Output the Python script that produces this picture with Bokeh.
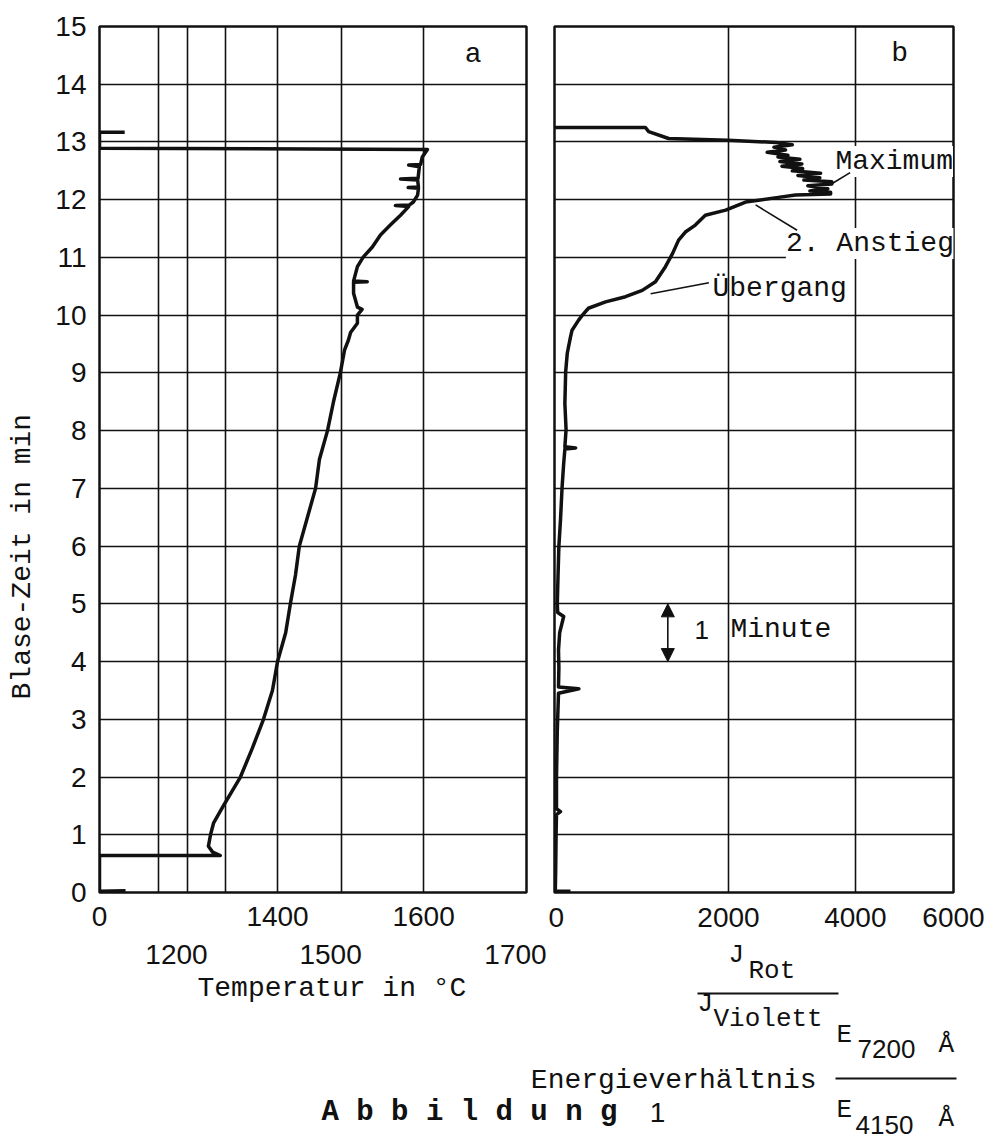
import math
from bokeh.plotting import figure
from bokeh.models import (Range1d, FixedTicker, LinearAxis, Grid, Label, Arrow,
                          NormalHead, ColumnDataSource)
from bokeh.layouts import row, column
from bokeh.embed import file_html
from bokeh.resources import INLINE

# ---------------- data ----------------
# blowing time (min), common vertical axis
MINUTES = list(range(0, 16))

# Panel a: pyrometer recorder, pen deflection in scale divisions (0..100 across the chart)
# calibration of the recorder scale in degrees Celsius
TEMP_C = [1100, 1200, 1300, 1400, 1500, 1600, 1700]
TEMP_DIV = [13.8, 20.6, 29.5, 41.7, 56.7, 75.9, 100.0]
TEMP_ROW1 = [1400, 1600]
TEMP_ROW2 = [1200, 1500, 1700]

a_time = [0.03, 0.02, 0.64, 0.64, 0.70, 0.80, 1.00, 1.20, 1.50, 2.00, 2.50, 3.00,
          3.50, 4.00, 4.50, 5.00, 5.50, 6.00, 6.50, 7.00, 7.50, 8.00, 8.50, 9.00,
          9.40, 9.57, 9.70, 9.86, 10.00, 10.10, 10.14, 10.38, 10.57, 10.58, 10.59,
          10.84, 11.01, 11.18, 11.39, 11.56, 11.73, 11.88, 11.90, 11.91, 11.96,
          12.08, 12.20, 12.21, 12.22, 12.34, 12.36, 12.37, 12.57, 12.60, 12.61,
          12.74, 12.87, 12.89, 13.17, 13.17]
a_div = [6.1, 0.0, 0.0, 28.3, 26.5, 25.5, 26.0, 26.7, 29.0, 33.0, 35.8, 38.4,
         40.5, 41.7, 43.6, 44.7, 45.9, 46.8, 48.7, 50.6, 51.5, 53.4, 54.8, 56.4,
         57.4, 58.3, 58.8, 60.4, 60.4, 61.5, 60.4, 59.5, 59.5, 62.7, 59.5,
         60.4, 61.8, 63.9, 65.8, 68.1, 70.5, 72.4, 69.3, 72.6, 73.5,
         74.5, 74.7, 72.3, 74.7, 74.5, 70.5, 74.6, 74.9, 72.4, 75.2,
         75.6, 76.8, 0.0, 0.0, 5.9]

# Panel b: intensity ratio J_Rot / J_Violett, pen deflection in scale divisions
RATIO_VAL = [0, 2000, 4000, 6000]
RATIO_DIV = [0.0, 43.6, 75.4, 100.0]

b_time = [0.02, 0.02, 0.40, 1.00, 1.35, 1.40, 1.45, 2.00, 2.80, 3.45, 3.53, 3.56,
          3.90, 4.20, 4.50, 4.78, 4.85, 5.00, 5.53, 6.00, 6.45, 7.02, 7.43, 7.68,
          7.70, 7.72, 8.02, 8.47, 9.02, 9.34, 9.62, 9.74, 9.91, 10.00, 10.12,
          10.23, 10.32, 10.43, 10.58, 10.84, 11.07, 11.30, 11.44, 11.56, 11.73,
          11.82, 11.96, 12.04, 12.08, 12.10, 12.13, 12.15, 12.19, 12.24, 12.27,
          12.31, 12.34, 12.38, 12.42, 12.46, 12.50, 12.54, 12.58, 12.62, 12.66,
          12.70, 12.74, 12.77, 12.82, 12.86, 12.91, 12.95, 12.99, 13.03, 13.06,
          13.18, 13.25, 13.25]
b_div = [4.0, 0.2, 0.3, 0.4, 0.5, 1.5, 0.5, 0.5, 0.7, 1.0, 6.1, 1.0,
         1.1, 1.0, 1.3, 2.3, 0.8, 0.7, 0.9, 1.1, 1.5, 1.9, 2.3, 2.6,
         5.3, 2.6, 2.9, 2.6, 2.8, 3.2, 4.0, 4.4, 6.0, 7.0, 8.5,
         12.8, 17.8, 22.0, 25.3, 27.8, 29.6, 31.1, 32.8, 35.3, 37.8,
         42.9, 47.9, 56.1, 60.4, 69.2, 69.2, 64.0, 68.5, 63.5, 69.5,
         69.5, 62.5, 66.5, 61.0, 66.7, 59.6, 62.2, 57.0, 62.0, 56.5,
         61.5, 56.0, 58.5, 53.3, 57.9, 55.0, 59.6, 55.5, 43.5, 28.6,
         23.6, 22.8, 0.0]

# ---------------- style / layout ----------------
TT = "Liberation Mono"
NUM = "Liberation Sans"
INK = "#111111"
PAGE_W, PAGE_H = 995, 1139
TOP_H = 936                 # height of the panel row
YLAB_W = 44                 # strip holding the vertical axis title
PA_LEFT, PA_W = 99, 427     # frame of panel a on the page
PB_LEFT, PB_W = 554, 399    # frame of panel b on the page
FRAME_TOP, FRAME_H = 26, 866


def hide_default_grids(p):
    for g in p.grid:
        g.visible = False


def base_fig(**kw):
    p = figure(x_range=Range1d(0, 100), y_range=Range1d(0, 15),
               frame_height=FRAME_H, min_border_top=FRAME_TOP,
               min_border_bottom=TOP_H - FRAME_TOP - FRAME_H,
               output_backend="svg", toolbar_location=None,
               x_axis_location=None, y_axis_location=None, **kw)
    hide_default_grids(p)
    p.outline_line_color = INK
    p.outline_line_width = 2.5
    p.background_fill_color = "white"
    p.border_fill_color = "white"
    p.add_layout(Grid(dimension=1, ticker=FixedTicker(ticks=MINUTES),
                      grid_line_color=INK, grid_line_width=1.6))
    return p


def plain_fig(w, h, xr, yr):
    p = figure(width=w, height=h, x_range=xr, y_range=yr, min_border=0,
               output_backend="svg", toolbar_location=None,
               x_axis_location=None, y_axis_location=None)
    hide_default_grids(p)
    p.outline_line_color = None
    p.background_fill_color = "white"
    p.border_fill_color = "white"
    return p


def txt(p, x, y, s, font=TT, size=28, align="left", **kw):
    p.add_layout(Label(x=x, y=y, text=s, text_font=font, text_font_size=f"{size}px",
                       text_color=INK, text_align=align, text_baseline="middle", **kw))


def rule(p, x0, x1, y, w=2):
    p.add_layout(Arrow(end=None, x_start=x0, y_start=y, x_end=x1, y_end=y,
                       line_color=INK, line_width=w))


# ---------------- vertical axis title strip ----------------
ylab = plain_fig(YLAB_W, TOP_H, Range1d(0, YLAB_W), Range1d(TOP_H, 0))
txt(ylab, 22, 573, "Blase-Zeit in min", align="center", angle=math.pi / 2)

# ---------------- panel a ----------------
pa = base_fig(frame_width=PA_W, min_border_left=PA_LEFT - YLAB_W, min_border_right=22)
pa.add_layout(Grid(dimension=0, ticker=FixedTicker(ticks=TEMP_DIV),
                   grid_line_color=INK, grid_line_width=1.6))

ya = LinearAxis(ticker=FixedTicker(ticks=MINUTES), axis_line_color=None,
                major_tick_line_color=None, minor_tick_line_color=None,
                major_label_standoff=7, major_label_text_font=NUM,
                major_label_text_font_size="28px", major_label_text_color=INK)
pa.add_layout(ya, "left")

row1_ticks = [0.0] + [TEMP_DIV[TEMP_C.index(t)] for t in TEMP_ROW1]
row1_labels = {0.0: "0"}
row1_labels.update({TEMP_DIV[TEMP_C.index(t)]: str(t) for t in TEMP_ROW1})
xa = LinearAxis(ticker=FixedTicker(ticks=row1_ticks), major_label_overrides=row1_labels,
                axis_line_color=None, major_tick_line_color=None,
                minor_tick_line_color=None, major_label_standoff=8,
                major_label_text_font=NUM, major_label_text_font_size="28px",
                major_label_text_color=INK)
pa.add_layout(xa, "below")

txt(pa, 87.5, 14.51, "a", align="center")

src_a = ColumnDataSource(dict(div=a_div, t=a_time))
pa.line("div", "t", source=src_a, line_color=INK, line_width=3.5, line_join="round")

# ---------------- panel b ----------------
pb = base_fig(frame_width=PB_W, min_border_left=6, min_border_right=42)
pb.add_layout(Grid(dimension=0, ticker=FixedTicker(ticks=RATIO_DIV),
                   grid_line_color=INK, grid_line_width=1.6))
xb = LinearAxis(ticker=FixedTicker(ticks=RATIO_DIV),
                major_label_overrides={d: str(v) for d, v in zip(RATIO_DIV, RATIO_VAL)},
                axis_line_color=None, major_tick_line_color=None,
                minor_tick_line_color=None, major_label_standoff=9,
                major_label_text_font=NUM, major_label_text_font_size="28px",
                major_label_text_color=INK)
pb.add_layout(xb, "below")

src_b = ColumnDataSource(dict(div=b_div, t=b_time))
pb.line("div", "t", source=src_b, line_color=INK, line_width=3.5, line_join="round")

txt(pb, 86.5, 14.54, "b", align="center")
txt(pb, 70.4, 12.66, "Maximum", background_fill_color="white")
txt(pb, 58.0, 11.24, "2. Anstieg", background_fill_color="white")
txt(pb, 39.6, 10.46, "Übergang")
for xs, ys, xe, ye in [(69.6, 12.28, 74.1, 12.47), (50.4, 11.91, 60.8, 11.47),
                       (24.1, 10.37, 38.7, 10.56)]:
    pb.add_layout(Arrow(end=None, x_start=xs, y_start=ys, x_end=xe, y_end=ye,
                        line_color=INK, line_width=1.6))

pb.add_layout(Arrow(start=NormalHead(size=13, fill_color=INK, line_color=INK),
                    end=NormalHead(size=13, fill_color=INK, line_color=INK),
                    x_start=28.4, y_start=4.0, x_end=28.4, y_end=5.0,
                    line_color=INK, line_width=1.6))
txt(pb, 36.9, 4.55, "1", font=NUM, size=26, align="center")
txt(pb, 44.1, 4.55, "Minute", background_fill_color="white")

# ---------------- caption strip (page pixel coordinates) ----------------
cap = plain_fig(PAGE_W, PAGE_H - TOP_H, Range1d(0, PAGE_W), Range1d(PAGE_H, TOP_H))

# second row of temperature labels of panel a (placed from the calibration)
for t in TEMP_ROW2:
    xpx = PA_LEFT + TEMP_DIV[TEMP_C.index(t)] / 100 * PA_W - 11
    txt(cap, xpx, 954, str(t), font=NUM, align="center")
txt(cap, 197, 988, "Temperatur in °C")

# J_Rot / J_Violett
txt(cap, 728, 954, "J", size=26)
txt(cap, 748, 970, "Rot", size=26)
rule(cap, 697, 838, 993)
txt(cap, 697, 1003, "J", size=26)
txt(cap, 713, 1018, "Violett", size=26)

# Energieverhältnis E 7200 Å / E 4150 Å
txt(cap, 836, 1034, "E", size=26)
txt(cap, 857, 1048, "7200", font=NUM, size=26)
txt(cap, 938, 1044, "Å", size=26)
rule(cap, 835, 956, 1078)
txt(cap, 836, 1109, "E", size=26)
txt(cap, 855, 1124, "4150", font=NUM, size=26)
txt(cap, 938, 1118, "Å", size=26)
txt(cap, 816, 1080, "Energieverhältnis", align="right")

txt(cap, 321, 1112, "A b b i l d u n g", size=29, text_font_style="bold")
txt(cap, 657, 1112, "1", font=NUM, size=28, align="center")

layout = column(row(ylab, pa, pb), cap)
open("out.html", "w").write(file_html(layout, INLINE, title="Abbildung 1"))
